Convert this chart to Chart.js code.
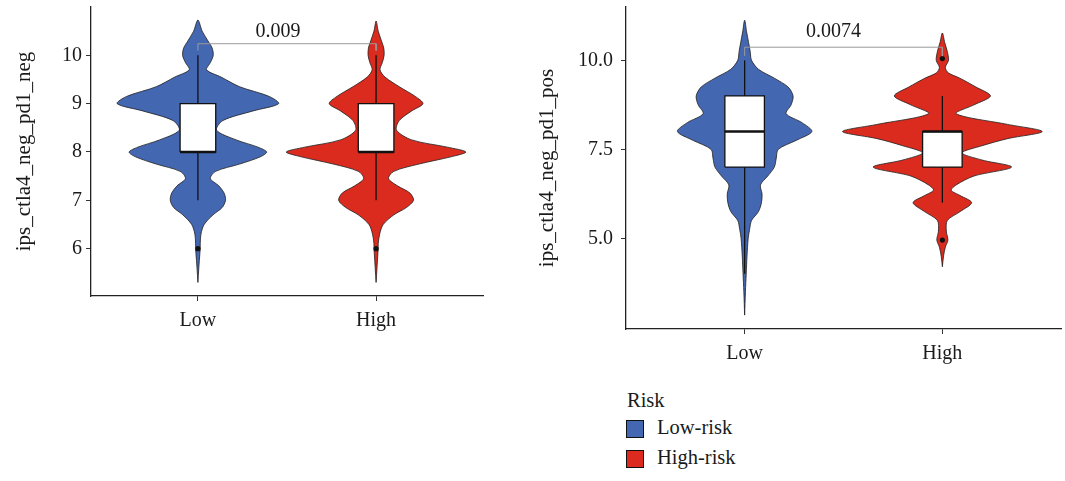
<!DOCTYPE html>
<html>
<head>
<meta charset="utf-8">
<script src="https://cdn.jsdelivr.net/npm/chart.js@4.4.0/dist/chart.umd.min.js"></script>
<style>
  body { margin: 0; background: #fff; width: 1065px; height: 481px; position: relative; overflow: hidden; font-family: "Liberation Serif", serif; color: #1a1a1a; }
  .panel { position: absolute; }
  #leftBox { left: 0; top: 0; width: 500px; height: 340px; }
  #rightBox { left: 520px; top: 0; width: 545px; height: 380px; }
  .lg { position: absolute; font-size: 20.5px; line-height: 20px; white-space: nowrap; }
  .sw { position: absolute; width: 18px; height: 18px; box-sizing: border-box; border: 1px solid #111; }
</style>
</head>
<body>
<div class="panel" id="leftBox"><canvas id="negChart"></canvas></div>
<div class="panel" id="rightBox"><canvas id="posChart"></canvas></div>

<div class="lg" style="left:627px; top:390px;">Risk</div>
<div class="sw" id="swLow" style="left:626px; top:420px;"></div>
<div class="lg" style="left:657px; top:417px;">Low-risk</div>
<div class="sw" id="swHigh" style="left:626px; top:450px;"></div>
<div class="lg" style="left:657px; top:447px;">High-risk</div>

<script>
const categories = ["Low", "High"];
const negTicks = [6, 7, 8, 9, 10];
const posTicks = [5.0, 7.5, 10.0];
const pLabels = ["0.009", "0.0074"];

// violin outlines: y values (bottom tip -> top tip) and half widths
const negLowY  = [5.3, 5.6, 5.9, 6.0, 6.1, 6.3, 6.5, 6.7, 6.85, 7.0, 7.15, 7.3, 7.45, 7.6, 7.75, 7.9, 8.0, 8.1, 8.25, 8.45, 8.65, 8.85, 9.0, 9.15, 9.35, 9.55, 9.7, 9.85, 10.0, 10.15, 10.3, 10.5, 10.73];
const negLowW  = [0, 0.005, 0.011, 0.013, 0.013, 0.017, 0.035, 0.085, 0.136, 0.155, 0.147, 0.117, 0.07, 0.1, 0.234, 0.35, 0.386, 0.337, 0.215, 0.105, 0.14, 0.31, 0.453, 0.4, 0.234, 0.13, 0.049, 0.07, 0.086, 0.08, 0.056, 0.024, 0];
const negHighY = [5.3, 5.6, 5.9, 6.0, 6.1, 6.3, 6.5, 6.7, 6.85, 7.0, 7.15, 7.3, 7.45, 7.6, 7.75, 7.9, 8.0, 8.1, 8.25, 8.45, 8.65, 8.85, 9.0, 9.15, 9.35, 9.55, 9.7, 9.85, 10.0, 10.15, 10.3, 10.5, 10.71];
const negHighW = [0, 0.005, 0.01, 0.012, 0.012, 0.02, 0.04, 0.1, 0.17, 0.21, 0.19, 0.12, 0.07, 0.1, 0.24, 0.42, 0.504, 0.4, 0.2, 0.115, 0.13, 0.2, 0.263, 0.22, 0.13, 0.05, 0.022, 0.035, 0.045, 0.043, 0.03, 0.012, 0];

const posLowY  = [2.84, 3.5, 4.0, 4.5, 5.0, 5.25, 5.5, 5.75, 6.0, 6.25, 6.5, 6.75, 7.0, 7.25, 7.5, 7.75, 8.0, 8.25, 8.5, 8.75, 9.0, 9.25, 9.5, 9.75, 10.0, 10.25, 10.5, 10.8, 11.13];
const posLowW  = [0, 0.004, 0.008, 0.012, 0.018, 0.025, 0.035, 0.07, 0.085, 0.088, 0.08, 0.117, 0.15, 0.16, 0.17, 0.26, 0.34, 0.29, 0.21, 0.235, 0.245, 0.22, 0.15, 0.07, 0.035, 0.028, 0.02, 0.01, 0];
const posHighY = [4.2, 4.5, 4.75, 4.95, 5.2, 5.5, 5.75, 6.0, 6.2, 6.35, 6.5, 6.75, 7.0, 7.2, 7.4, 7.6, 7.8, 8.0, 8.2, 8.5, 8.75, 9.0, 9.25, 9.5, 9.65, 9.8, 10.0, 10.25, 10.5, 10.77];
const posHighW = [0, 0.006, 0.015, 0.028, 0.02, 0.025, 0.09, 0.148, 0.09, 0.045, 0.07, 0.16, 0.35, 0.2, 0.1, 0.2, 0.33, 0.505, 0.33, 0.07, 0.16, 0.243, 0.17, 0.088, 0.03, 0.015, 0.031, 0.025, 0.012, 0];

// box stats: lower whisker, q1, median, q3, upper whisker
const negLowBox  = [7, 8, 8, 9, 10];
const negHighBox = [7, 8, 8, 9, 10];
const posLowBox  = [4.0, 7, 8, 9, 10];
const posHighBox = [6, 7, 8, 8, 9];
const negLowOut  = [6];
const negHighOut = [6];
const posLowOut  = [];
const posHighOut = [10.05, 4.95];

// comparison bracket: foot, top
const negBracket = [10.1, 10.24];
const posBracket = [10.12, 10.37];

const BLUE = "#4467B2";
const RED = "#DB2B1E";
document.getElementById("swLow").style.background = BLUE;
document.getElementById("swHigh").style.background = RED;

Chart.defaults.font.family = "'Liberation Serif', serif";
Chart.defaults.color = "#1a1a1a";

function violin(c, ys, ws, color) {
  const left = ys.map((y, i) => ({ x: c - ws[i], y: y }));
  const right = ys.map((y, i) => ({ x: c + ws[i], y: y })).reverse();
  return {
    data: left.concat(right.slice(1)),
    showLine: true, fill: "shape", backgroundColor: color,
    borderColor: "#1e1e1e", borderWidth: 0.8, pointRadius: 0, tension: 0.3, order: 6
  };
}

function boxSets(c, b, outs) {
  const hw = 0.1;
  const line = (pts, w, order) => ({
    data: pts, showLine: true, borderColor: "#111", borderWidth: w,
    pointRadius: 0, tension: 0, fill: false, order: order
  });
  const sets = [
    line([{ x: c, y: b[0] }, { x: c, y: b[1] }], 1.3, 5),
    line([{ x: c, y: b[3] }, { x: c, y: b[4] }], 1.3, 5),
    {
      data: [{ x: c - hw, y: b[1] }, { x: c - hw, y: b[3] }, { x: c + hw, y: b[3] }, { x: c + hw, y: b[1] }, { x: c - hw, y: b[1] }],
      showLine: true, fill: "shape", backgroundColor: "#fff", borderColor: "#111",
      borderWidth: 1.3, pointRadius: 0, tension: 0, order: 4
    },
    line([{ x: c - hw, y: b[2] }, { x: c + hw, y: b[2] }], 2.6, 3)
  ];
  if (outs.length) {
    sets.push({
      data: outs.map(v => ({ x: c, y: v })), showLine: false,
      pointRadius: 2.6, backgroundColor: "#111", borderWidth: 0, order: 2
    });
  }
  return sets;
}

function bracket(br) {
  return {
    data: [{ x: 1, y: br[0] }, { x: 1, y: br[1] }, { x: 2, y: br[1] }, { x: 2, y: br[0] }],
    showLine: true, borderColor: "#999", borderWidth: 1, pointRadius: 0, tension: 0, fill: false, order: 1
  };
}

const pText = {
  id: "pText",
  afterDatasetsDraw(chart, args, o) {
    const { ctx, scales } = chart;
    ctx.save();
    ctx.font = "20px 'Liberation Serif'";
    ctx.fillStyle = "#1a1a1a";
    ctx.textAlign = "center";
    ctx.textBaseline = "middle";
    ctx.fillText(o.text, scales.x.getPixelForValue(o.x), scales.y.getPixelForValue(o.y));
    ctx.restore();
  }
};

function makePanel(id, cfg) {
  const datasets = [
    violin(1, cfg.lowY, cfg.lowW, BLUE),
    violin(2, cfg.highY, cfg.highW, RED),
    ...boxSets(1, cfg.lowBox, cfg.lowOut),
    ...boxSets(2, cfg.highBox, cfg.highOut),
    bracket(cfg.bracket)
  ];
  return new Chart(document.getElementById(id), {
    type: "scatter",
    data: { datasets: datasets },
    plugins: [pText],
    options: {
      responsive: true,
      maintainAspectRatio: false,
      animation: false,
      events: [],
      layout: { padding: cfg.pad },
      plugins: {
        legend: { display: false },
        tooltip: { enabled: false },
        pText: { text: cfg.pLabel, x: 1.45, y: cfg.pY }
      },
      scales: {
        x: {
          type: "linear", min: 0.4, max: 2.6,
          afterBuildTicks: (s) => { s.ticks = categories.map((c, i) => ({ value: i + 1 })); },
          afterFit: (s) => { s.height = 40; s.paddingLeft = 0; s.paddingRight = 0; },
          ticks: { callback: (v, i) => categories[i], font: { size: 20 }, color: "#1a1a1a", padding: 8, maxRotation: 0 },
          grid: { drawOnChartArea: false, drawTicks: true, tickLength: 5, tickColor: "#333" },
          border: { display: true, color: "#222", width: 1.3 }
        },
        y: {
          type: "linear", min: cfg.yMin, max: cfg.yMax,
          afterBuildTicks: (s) => { s.ticks = cfg.ticks.map(v => ({ value: v })); },
          afterFit: (s) => { s.width = cfg.yWidth; s.paddingTop = 0; s.paddingBottom = 0; },
          ticks: { callback: cfg.tickFmt, font: { size: 20 }, color: "#1a1a1a", padding: cfg.tickPad },
          grid: { drawOnChartArea: false, drawTicks: true, tickLength: 5, tickColor: "#333" },
          border: { display: true, color: "#222", width: 1.3 },
          title: { display: true, text: cfg.yTitle, font: { size: 21 }, color: "#1a1a1a", padding: { top: cfg.titlePad, bottom: 0 } }
        }
      }
    }
  });
}

makePanel("negChart", {
  lowY: negLowY, lowW: negLowW, highY: negHighY, highW: negHighW,
  lowBox: negLowBox, highBox: negHighBox, lowOut: negLowOut, highOut: negHighOut,
  bracket: negBracket, pLabel: pLabels[0], pY: 10.49,
  yMin: 5.02, yMax: 11.0, ticks: negTicks, tickFmt: (v) => String(v),
  yTitle: "ips_ctla4_neg_pd1_neg", yWidth: 91, tickPad: 4, titlePad: 12,
  pad: { top: 7, left: 0, right: 17, bottom: 4 }
});

makePanel("posChart", {
  lowY: posLowY, lowW: posLowW, highY: posHighY, highW: posHighW,
  lowBox: posLowBox, highBox: posHighBox, lowOut: posLowOut, highOut: posHighOut,
  bracket: posBracket, pLabel: pLabels[1], pY: 10.8,
  yMin: 2.45, yMax: 11.5, ticks: posTicks, tickFmt: (v) => v.toFixed(1),
  yTitle: "ips_ctla4_neg_pd1_pos", yWidth: 106, tickPad: 8, titlePad: 15,
  pad: { top: 7, left: 0, right: 1, bottom: 11 }
});
</script>
</body>
</html>
